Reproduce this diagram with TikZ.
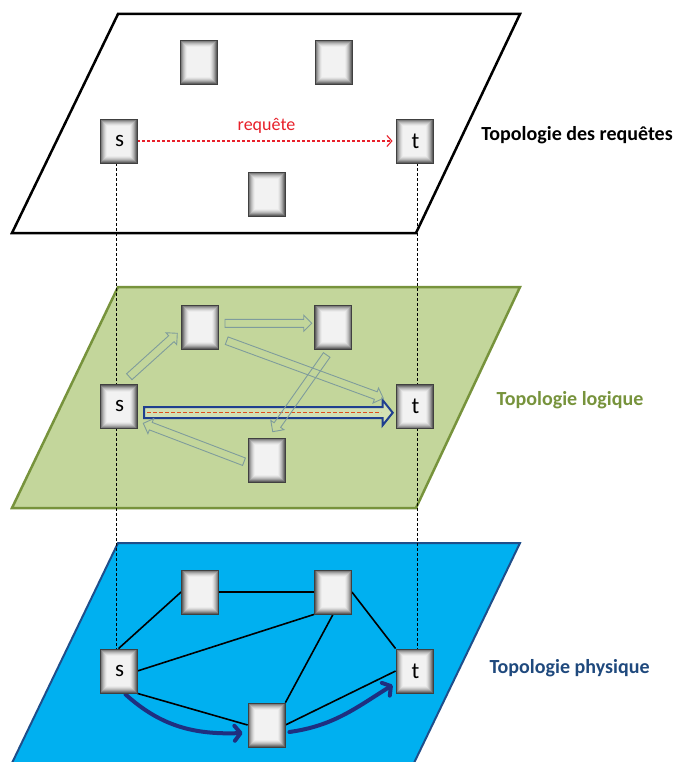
\documentclass[tikz,border=0pt]{standalone}
\usepackage{fontspec}
\setmainfont{Carlito}
\usetikzlibrary{calc,arrows.meta}
\definecolor{lgreen}{HTML}{C3D69B}
\definecolor{dgreen}{HTML}{77933C}
\definecolor{skyb}{HTML}{00B0F0}
\definecolor{skyborder}{HTML}{1F4E8A}
\definecolor{navy}{HTML}{1F2F80}
\definecolor{titleblue}{HTML}{1F497D}
\definecolor{arrowgray}{HTML}{7F9C9C}
\definecolor{mainblue}{HTML}{1F3F8F}
\definecolor{reqred}{HTML}{E8202A}
\definecolor{dashred}{HTML}{E0501E}
\pgfdeclarelayer{back}
\pgfdeclarelayer{mid}
\pgfsetlayers{back,mid,main}
\newcommand\hollowarrow[6]{%
 \draw[#1] let \p1=(#2), \p2=(#3), \n1={atan2(\y2-\y1,\x2-\x1)}, \n2={veclen(\x2-\x1,\y2-\y1)} in
  ($(\p1)+({\n1-90}:#4)$) -- ($(\p1)+({\n1}:{\n2*1pt-#6})+({\n1-90}:#4)$) -- ($(\p1)+({\n1}:{\n2*1pt-#6})+({\n1-90}:#5)$) -- (\p2) -- ($(\p1)+({\n1}:{\n2*1pt-#6})+({\n1+90}:#5)$) -- ($(\p1)+({\n1}:{\n2*1pt-#6})+({\n1+90}:#4)$) -- ($(\p1)+({\n1+90}:#4)$) -- cycle;}
\tikzset{
 box/.style={minimum width=37pt, minimum height=44pt, inner sep=0pt, draw=black!75, line width=0.8pt, fill=black!62!white,
   font=\fontsize{23}{23}\selectfont,
   path picture={\foreach \i/\c in {1/50,2/38,3/28,4/20,5/13,6/8,7/5}{\fill[black!\c!white] ([xshift=\i pt,yshift=-\i pt]path picture bounding box.north west) rectangle ([xshift=-\i pt,yshift=\i pt]path picture bounding box.south east);}}},
 plane/.style={line width=2.5pt, line join=miter},
 title/.style={font=\bfseries\fontsize{20}{20}\selectfont},
 vline/.style={black, line width=0.6pt, dash pattern=on 3pt off 2pt},
 thinarrow/.style={draw=arrowgray, line width=0.9pt, line join=miter},
 mainarrow/.style={draw=mainblue, line width=2pt, fill=white, fill opacity=0.25, line join=miter},
 edge/.style={black, line width=1.6pt},
 path/.style={navy, line width=4pt, line cap=round, -{Straight Barb[length=6pt,width=15pt,line cap=round,line join=round]}},
}
\begin{document}
\begin{tikzpicture}[x=1pt, y=-1pt]
\useasboundingbox (0,0) rectangle (680,762);
% nodes
\node[box] (l1) at (198.5,62) {};
\node[box] (r1) at (333.5,62) {};
\node[box] (s1) at (118.5,141) {\kern2pt s};
\node[box] (t1) at (414.5,141) {\kern2pt t};
\node[box] (b1) at (266.5,194) {};
\node[box] (l2) at (200,327) {};
\node[box] (r2) at (333,327) {};
\node[box] (s2) at (118.5,406.5) {\kern2pt s};
\node[box] (t2) at (414.5,406.5) {\kern2pt t};
\node[box] (b2) at (266.5,460) {};
\node[box] (l3) at (200,592) {};
\node[box] (r3) at (333,592) {};
\node[box] (s3) at (118.5,671) {\kern2pt s};
\node[box] (t3) at (414.5,671) {\kern2pt t};
\node[box] (b3) at (266.5,725) {};
% titles
\node[title, black] (lab1) at (577,135) {Topologie des requêtes};
\node[title, dgreen] (lab2) at (570,400) {Topologie logique};
\node[title, titleblue] (lab3) at (569.5,668) {Topologie physique};
% arrow end coordinates (logical layer)
\coordinate (a1s) at (129.3,376.7); \coordinate (a1e) at (177.3,333.3);
\coordinate (a2s) at (225,323.3);   \coordinate (a2e) at (311.7,323.3);
\coordinate (a3s) at (226.7,340.7); \coordinate (a3e) at (383.3,398.3);
\coordinate (a4s) at (326.7,355);   \coordinate (a4e) at (272.7,431.7);
\coordinate (a5s) at (244,461.7);   \coordinate (a5e) at (143.3,423.3);
\coordinate (ms) at (144,412.7);    \coordinate (me) at (392.7,412.7);
\coordinate (ds) at (147,412.7);    \coordinate (de) at (381,412.7);
\begin{pgfonlayer}{back}
 \draw[plane, black, fill=white] (118,14) -- (520,14) -- (416,233) -- (12,233) -- cycle;
 \draw[plane, dgreen, fill=lgreen] (118,287) -- (520,287) -- (416,508) -- (12,508) -- cycle;
 \fill[skyb] (118,543) -- (520,543) -- (414,763) -- (12,763) -- cycle;
 \draw[plane, skyborder, line width=2pt] (12,763) -- (118,543) -- (520,543) -- (414,763);
\end{pgfonlayer}
\begin{pgfonlayer}{mid}
 \draw[vline] ([xshift=-2.5pt]s1.south) -- ([xshift=-2.5pt]s3.north);
 \draw[vline] ([xshift=3pt]t1.south) -- ([xshift=3pt]t3.north);
 % request
 \draw[reqred, line width=1.1pt, dash pattern=on 3pt off 2pt, shorten >=3pt, -{Straight Barb[length=5pt,width=11pt]}] (s1.east) -- node[above=4pt, font=\fontsize{18}{18}\selectfont, text=reqred] (req) {requête} (t1.west);
 % logical layer
 \hollowarrow{mainarrow}{ms}{me}{5.5pt}{12.5pt}{10pt}
 \draw[dashred, line width=1.2pt, dash pattern=on 4pt off 2pt] (ds) -- (de);
 \hollowarrow{thinarrow}{a1s}{a1e}{4pt}{8pt}{8pt}
 \hollowarrow{thinarrow}{a2s}{a2e}{4pt}{8pt}{8pt}
 \hollowarrow{thinarrow}{a3s}{a3e}{4pt}{8pt}{8pt}
 \hollowarrow{thinarrow}{a4s}{a4e}{4pt}{8pt}{8pt}
 \hollowarrow{thinarrow}{a5s}{a5e}{4pt}{8pt}{8pt}
 % physical layer
 \draw[edge] (s3.north) -- (l3.west);
 \draw[edge] (l3.east) -- (r3.west);
 \draw[edge] (r3.east) -- (t3.north west);
 \draw[edge] (s3.east) -- (r3.south west);
 \draw[edge] (r3.south) -- (b3.north east);
 \draw[edge] (s3.south east) -- (b3.west);
 \draw[edge] (b3.east) -- (t3.west);
 \draw[path] ([xshift=7pt,yshift=-1pt]s3.south) to[out=-42, in=182] ([xshift=-5pt,yshift=-8pt]b3.west);
 \draw[path] ([xshift=4pt,yshift=-7pt]b3.east) to[out=8, in=212] ([xshift=-3pt,yshift=-14pt]t3.west);
\end{pgfonlayer}
\end{tikzpicture}
\end{document}
